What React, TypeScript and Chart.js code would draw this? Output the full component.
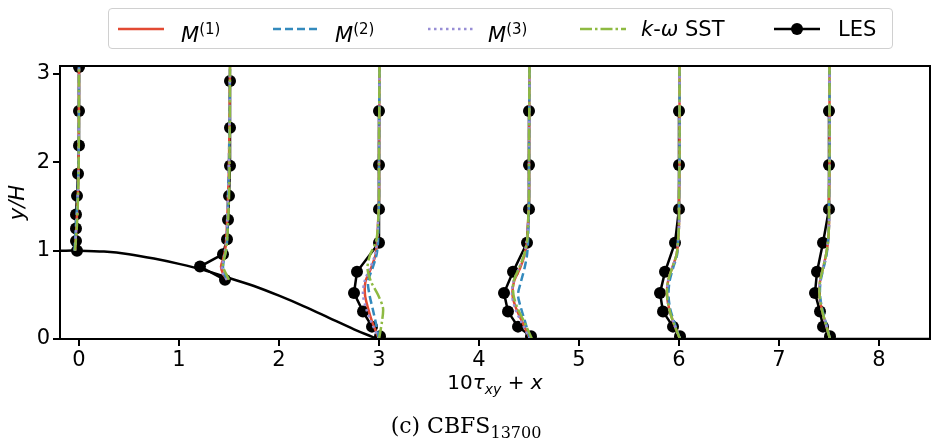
import React, { useEffect, useRef } from "react";
import { Chart, registerables } from "chart.js";
Chart.register(...registerables);

// ---------- axes ----------
const xTicks = [0, 1, 2, 3, 4, 5, 6, 7, 8];
const yTicks = [0, 1, 2, 3];
const xMin = -0.19;
const xMax = 8.51;
const yMin = 0;
const yMax = 3.09;

// ---------- hill (bottom wall) ----------
const hillX = [-0.19, 0, 0.25, 0.5, 0.75, 1.0, 1.25, 1.5, 1.75, 2.0, 2.25, 2.5, 2.75, 2.9, 3.0, 8.51];
const hillY = [1.0, 1.0, 0.99, 0.96, 0.91, 0.85, 0.78, 0.69, 0.6, 0.49, 0.37, 0.24, 0.11, 0.04, 0.0, 0.0];

// ---------- LES profiles (10*tau_xy + x) ----------
const lesY_s0 = [1.0, 1.11, 1.25, 1.41, 1.62, 1.87, 2.19, 2.58, 3.08];
const lesY_s1 = [0.67, 0.82, 0.96, 1.13, 1.35, 1.62, 1.96, 2.39, 2.92];
const lesY_flat = [0.03, 0.14, 0.31, 0.52, 0.76, 1.09, 1.47, 1.97, 2.58];
const lesX_s0 = [-0.02, -0.03, -0.03, -0.03, -0.02, -0.01, 0.0, 0.0, 0.0];
const lesX_s1 = [1.46, 1.21, 1.44, 1.48, 1.49, 1.5, 1.51, 1.51, 1.51];
const lesX_s2 = [3.01, 2.93, 2.84, 2.75, 2.78, 3.0, 3.0, 3.0, 3.0];
const lesX_s3 = [4.52, 4.39, 4.29, 4.25, 4.34, 4.48, 4.5, 4.5, 4.5];
const lesX_s4 = [6.01, 5.94, 5.84, 5.81, 5.86, 5.96, 6.0, 6.0, 6.0];
const lesX_s5 = [7.51, 7.44, 7.41, 7.36, 7.38, 7.44, 7.5, 7.5, 7.5];

// ---------- model profiles ----------
const modY_s0 = [1.0, 1.3, 1.6, 2.0, 3.09];
const modY_s1 = [0.67, 0.74, 0.82, 0.9, 1.0, 1.1, 1.3, 1.6, 2.0, 3.09];
const modY_flat = [0, 0.2, 0.35, 0.5, 0.65, 0.8, 0.95, 1.1, 1.3, 1.6, 2.0, 3.09];

const m1X = [
  [-0.04, -0.025, -0.012, -0.004, 0.0],
  [1.48, 1.44, 1.42, 1.44, 1.46, 1.47, 1.48, 1.49, 1.5, 1.51],
  [3.0, 2.93, 2.89, 2.86, 2.865, 2.92, 2.965, 2.98, 2.99, 3.0, 3.0, 3.005],
  [4.51, 4.43, 4.37, 4.335, 4.35, 4.41, 4.455, 4.48, 4.49, 4.5, 4.5, 4.505],
  [6.01, 5.94, 5.9, 5.88, 5.89, 5.93, 5.975, 5.99, 6.0, 6.0, 6.005, 6.005],
  [7.51, 7.46, 7.425, 7.405, 7.41, 7.44, 7.47, 7.49, 7.5, 7.5, 7.505, 7.505],
];
const m2X = [
  [-0.045, -0.03, -0.015, -0.005, 0.0],
  [1.48, 1.45, 1.44, 1.45, 1.47, 1.48, 1.485, 1.49, 1.5, 1.51],
  [3.0, 2.965, 2.935, 2.905, 2.89, 2.935, 2.975, 2.99, 2.995, 3.0, 3.0, 3.005],
  [4.51, 4.46, 4.42, 4.39, 4.42, 4.455, 4.48, 4.49, 4.495, 4.5, 4.5, 4.505],
  [6.01, 5.95, 5.91, 5.895, 5.905, 5.94, 5.98, 5.99, 6.0, 6.0, 6.005, 6.005],
  [7.51, 7.465, 7.43, 7.41, 7.415, 7.445, 7.475, 7.49, 7.5, 7.5, 7.505, 7.505],
];
const m3X = [
  [-0.04, -0.025, -0.012, -0.004, 0.0],
  [1.48, 1.44, 1.43, 1.445, 1.46, 1.47, 1.48, 1.49, 1.5, 1.51],
  [3.0, 2.92, 2.87, 2.84, 2.855, 2.91, 2.96, 2.98, 2.99, 3.0, 3.0, 3.005],
  [4.51, 4.42, 4.36, 4.33, 4.345, 4.4, 4.45, 4.475, 4.49, 4.5, 4.5, 4.505],
  [6.01, 5.94, 5.9, 5.88, 5.89, 5.93, 5.975, 5.99, 6.0, 6.0, 6.005, 6.005],
  [7.51, 7.46, 7.425, 7.405, 7.41, 7.44, 7.47, 7.49, 7.5, 7.5, 7.505, 7.505],
];
const sstX = [
  [-0.04, -0.02, -0.01, -0.003, 0.0],
  [1.5, 1.47, 1.44, 1.45, 1.47, 1.48, 1.49, 1.5, 1.505, 1.51],
  [3.0, 3.03, 3.04, 2.99, 2.92, 2.885, 2.91, 2.97, 2.99, 3.0, 3.0, 3.005],
  [4.53, 4.45, 4.385, 4.345, 4.345, 4.4, 4.45, 4.48, 4.49, 4.5, 4.5, 4.505],
  [6.01, 5.94, 5.9, 5.88, 5.89, 5.93, 5.975, 5.99, 6.0, 6.0, 6.005, 6.005],
  [7.51, 7.46, 7.425, 7.405, 7.41, 7.44, 7.47, 7.49, 7.5, 7.5, 7.505, 7.505],
];

const lesXs = [lesX_s0, lesX_s1, lesX_s2, lesX_s3, lesX_s4, lesX_s5];
const lesYs = [lesY_s0, lesY_s1, lesY_flat, lesY_flat, lesY_flat, lesY_flat];
const modYs = [modY_s0, modY_s1, modY_flat, modY_flat, modY_flat, modY_flat];

const RED = "#E24A33";
const BLUE = "#348ABD";
const PURPLE = "#988ED5";
const GREEN = "#8EBA42";
const FONT = "'DejaVu Sans', sans-serif";

const framePlugin = {
  id: "frame",
  afterDatasetsDraw(chart: any) {
    const { ctx, chartArea: a } = chart;
    ctx.save();
    ctx.strokeStyle = "#000";
    ctx.lineWidth = 2;
    ctx.strokeRect(a.left, a.top, a.right - a.left, a.bottom - a.top);
    ctx.restore();
  },
};

export default function App() {
  const ref = useRef<HTMLCanvasElement>(null);

  useEffect(() => {
    document.body.style.margin = "0";
    const datasets: any[] = [];
    const models = [
      { xs: sstX, color: GREEN, dash: [12, 3, 2.5, 3] },
      { xs: m3X, color: PURPLE, dash: [2.5, 3.5] },
      { xs: m2X, color: BLUE, dash: [8, 4] },
      { xs: m1X, color: RED, dash: [] as number[] },
    ];
    models.forEach((m) =>
      m.xs.forEach((xs, s) => {
        const ys = modYs[s];
        datasets.push({
          data: xs.map((x, i) => ({ x, y: ys[i] })),
          showLine: true,
          borderColor: m.color,
          borderDash: m.dash,
          borderWidth: 2.5,
          pointRadius: 0,
          tension: 0.3,
          clip: 0,
        });
      })
    );
    lesXs.forEach((xs, s) => {
      const ys = lesYs[s];
      datasets.push({
        data: xs.map((x, i) => ({ x, y: ys[i] })),
        showLine: true,
        borderColor: "#000",
        borderWidth: 2.5,
        pointRadius: 6,
        pointBackgroundColor: "#000",
        pointBorderWidth: 0,
        tension: 0,
        clip: 0,
      });
    });
    datasets.push({
      data: hillX.map((x, i) => ({ x, y: hillY[i] })),
      showLine: true,
      borderColor: "#000",
      borderWidth: 2.5,
      pointRadius: 0,
      tension: 0.3,
      clip: 0,
    });

    const tickFont = { family: FONT, size: 21 };
    const chart = new Chart(ref.current!, {
      type: "scatter",
      data: { datasets },
      options: {
        animation: false,
        responsive: false,
        devicePixelRatio: 1,
        layout: { autoPadding: false, padding: { top: 66, right: 2, left: 0, bottom: 0 } },
        plugins: { legend: { display: false }, tooltip: { enabled: false } },
        events: [],
        scales: {
          x: {
            type: "linear",
            min: xMin,
            max: xMax,
            afterBuildTicks: (s: any) => {
              s.ticks = xTicks.map((v) => ({ value: v }));
            },
            afterFit: (s: any) => {
              s.height = 106;
              s.paddingLeft = 0;
              s.paddingRight = 0;
            },
            ticks: { font: tickFont, color: "#000", padding: 2, autoSkip: false, maxRotation: 0 },
            grid: { drawOnChartArea: false, drawTicks: true, tickLength: 7, color: "#000", lineWidth: 2 },
            border: { display: false },
          },
          y: {
            type: "linear",
            min: yMin,
            max: yMax,
            afterBuildTicks: (s: any) => {
              s.ticks = yTicks.map((v) => ({ value: v }));
            },
            afterFit: (s: any) => {
              s.width = 60;
              s.paddingTop = 0;
              s.paddingBottom = 0;
            },
            title: {
              display: true,
              text: "y/H",
              color: "#000",
              font: { family: FONT, size: 21, style: "italic" },
              padding: { top: 6, bottom: 0 },
            },
            ticks: { font: tickFont, color: "#000", padding: 3 },
            grid: { drawOnChartArea: false, drawTicks: true, tickLength: 7, color: "#000", lineWidth: 2 },
            border: { display: false },
          },
        },
      },
      plugins: [framePlugin],
    } as any);
    return () => chart.destroy();
  }, []);

  const legendItems = [
    { hx: 118, tx: 181, color: RED, dash: "", label: <><i>M</i><sup style={{ fontSize: 15 }}>(1)</sup></> },
    { hx: 273, tx: 335, color: BLUE, dash: "8 4", label: <><i>M</i><sup style={{ fontSize: 15 }}>(2)</sup></> },
    { hx: 428, tx: 488, color: PURPLE, dash: "2.5 3.5", label: <><i>M</i><sup style={{ fontSize: 15 }}>(3)</sup></> },
    { hx: 580, tx: 641, color: GREEN, dash: "12 3 2.5 3", label: <><i>k</i>-<i>ω</i> SST</> },
    { hx: 774, tx: 838, color: "#000", dash: "", label: <>LES</>, marker: true },
  ];

  return (
    <div style={{ position: "relative", width: 932, height: 445, background: "#fff", fontFamily: FONT }}>
      <canvas ref={ref} width={932} height={445} style={{ position: "absolute", left: 0, top: 0 }} />
      <div
        style={{
          position: "absolute",
          left: 108,
          top: 8,
          width: 785,
          height: 41,
          border: "1px solid #d0d0d0",
          borderRadius: 4,
          boxSizing: "border-box",
          background: "rgba(255,255,255,0.8)",
        }}
      />
      {legendItems.map((it, i) => (
        <React.Fragment key={i}>
          <svg style={{ position: "absolute", left: it.hx, top: 19 }} width={46} height={20}>
            <line x1={0} y1={10} x2={46} y2={10} stroke={it.color} strokeWidth={2.5} strokeDasharray={it.dash || undefined} />
            {it.marker ? <circle cx={23} cy={10} r={6} fill="#000" /> : null}
          </svg>
          <div
            style={{
              position: "absolute",
              left: it.tx,
              top: 15,
              fontSize: 21,
              lineHeight: "28px",
              height: 28,
              whiteSpace: "nowrap",
              color: "#000",
            }}
          >
            {it.label}
          </div>
        </React.Fragment>
      ))}
      <div
        style={{
          position: "absolute",
          left: 60,
          width: 870,
          top: 369,
          textAlign: "center",
          fontSize: 20,
          lineHeight: "26px",
          color: "#000",
          whiteSpace: "nowrap",
        }}
      >
        10<i>τ</i>
        <sub style={{ fontSize: 14, lineHeight: 0 }}>
          <i>xy</i>
        </sub>
        {" + "}
        <i>x</i>
      </div>
      <div
        style={{
          position: "absolute",
          left: 0,
          width: 932,
          top: 413,
          textAlign: "center",
          fontFamily: "'DejaVu Serif', serif",
          fontSize: 22,
          lineHeight: "26px",
          color: "#000",
          whiteSpace: "nowrap",
        }}
      >
        (c) CBFS<sub style={{ fontSize: 16, lineHeight: 0 }}>13700</sub>
      </div>
    </div>
  );
}
